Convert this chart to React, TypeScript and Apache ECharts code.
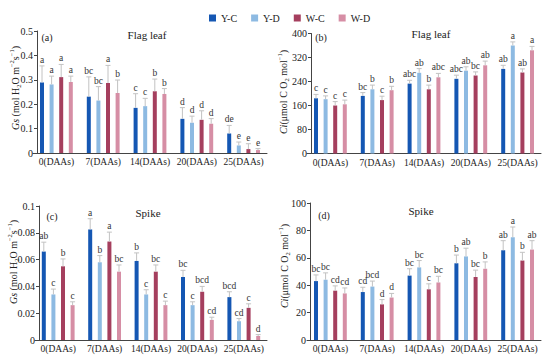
import { useEffect, useRef } from "react";
import * as echarts from "echarts";

const categories = ["0(DAAs)", "7(DAAs)", "14(DAAs)", "20(DAAs)", "25(DAAs)"];
const seriesNames = ["Y-C", "Y-D", "W-C", "W-D"];
const colors = ["#1557b3", "#8dbae2", "#a53f5e", "#d68ea5"];

// (a) Flag leaf Gs — rows follow seriesNames
const leafGsMean = [
  [0.289, 0.231, 0.185, 0.14, 0.08],
  [0.281, 0.215, 0.192, 0.124, 0.031],
  [0.311, 0.287, 0.253, 0.136, 0.016],
  [0.291, 0.246, 0.242, 0.12, 0.012],
];
const leafGsTop = [
  [0.357, 0.312, 0.243, 0.186, 0.113],
  [0.315, 0.272, 0.224, 0.151, 0.045],
  [0.363, 0.359, 0.303, 0.173, 0.038],
  [0.315, 0.299, 0.264, 0.141, 0.018],
];
const leafGsSig = [
  ["a", "bc", "c", "d", "de"],
  ["a", "bc", "c", "d", "e"],
  ["a", "a", "b", "d", "e"],
  ["a", "b", "b", "d", "e"],
];

// (b) Flag leaf Ci
const leafCiMean = [
  [184, 192, 233, 249, 282],
  [181, 214, 269, 276, 360],
  [160, 178, 214, 260, 270],
  [164, 211, 254, 294, 344],
];
const leafCiTop = [
  [197, 203, 244, 261, 294],
  [192, 228, 283, 289, 372],
  [173, 191, 228, 272, 282],
  [178, 224, 267, 308, 357],
];
const leafCiSig = [
  ["c", "bc", "abc", "abc", "ab"],
  ["c", "b", "ab", "ab", "a"],
  ["c", "c", "b", "bc", "ab"],
  ["c", "b", "abc", "ab", "a"],
];

// (c) Spike Gs
const spikeGsMean = [
  [0.066, 0.0825, 0.059, 0.047, 0.032],
  [0.034, 0.058, 0.034, 0.026, 0.014],
  [0.055, 0.0735, 0.051, 0.036, 0.024],
  [0.026, 0.051, 0.026, 0.015, 0.003],
];
const spikeGsTop = [
  [0.073, 0.0905, 0.065, 0.052, 0.036],
  [0.038, 0.063, 0.0375, 0.0285, 0.016],
  [0.0605, 0.0805, 0.056, 0.04, 0.027],
  [0.0285, 0.056, 0.029, 0.017, 0.004],
];
const spikeGsSig = [
  ["ab", "a", "b", "bc", "bcd"],
  ["c", "b", "c", "c", "cd"],
  ["b", "a", "bc", "bcd", "c"],
  ["c", "bc", "c", "cd", "d"],
];

// (d) Spike Ci
const spikeCiMean = [
  [43, 35, 47, 56, 65.5],
  [44, 39, 53, 61, 75],
  [36, 26, 37, 46, 58],
  [34, 31, 42, 52, 66],
];
const spikeCiTop = [
  [47.5, 38.5, 52, 62, 72.5],
  [49, 43, 58, 67, 82.5],
  [39.5, 29.5, 41, 51, 64],
  [38, 34, 46.5, 57, 72.5],
];
const spikeCiSig = [
  ["bc", "cd", "bc", "b", "ab"],
  ["bc", "bcd", "bc", "ab", "a"],
  ["cd", "d", "c", "bc", "b"],
  ["cd", "d", "bc", "b", "ab"],
];

const FONT = "'Liberation Serif', 'Times New Roman', serif";
const BAR_W = 4;
const BAR_GAP = 1.4;
const STEP = BAR_W * (1 + BAR_GAP);
const OFFSETS = [-1.5, -0.5, 0.5, 1.5].map((k) => k * STEP);

const panels = [
  { mean: leafGsMean, top: leafGsTop, sig: leafGsSig, grid: { left: 33, top: 31, width: 234, height: 122 }, off: -4, max: 0.5, interval: 0.1 },
  { mean: leafCiMean, top: leafCiTop, sig: leafCiSig, grid: { left: 307, top: 33.5, width: 234, height: 120 }, off: -4, max: 400, interval: 80 },
  { mean: spikeGsMean, top: spikeGsTop, sig: spikeGsSig, grid: { left: 35, top: 206, width: 232, height: 134 }, off: -4, max: 0.1, interval: 0.02 },
  { mean: spikeCiMean, top: spikeCiTop, sig: spikeCiSig, grid: { left: 307, top: 203, width: 234, height: 137 }, off: -3, max: 100, interval: 20 },
];

const richStyles = {
  n: { fontSize: 10, fontFamily: FONT, lineHeight: 14, fill: "#222" },
  i: { fontSize: 10, fontFamily: FONT, fontStyle: "italic", lineHeight: 14, fill: "#222" },
  sup: { fontSize: 6.5, fontFamily: FONT, verticalAlign: "top", lineHeight: 8, fill: "#222" },
  sub: { fontSize: 6.5, fontFamily: FONT, verticalAlign: "bottom", lineHeight: 8, fill: "#222" },
};
const gsTitle = "{i|Gs}{n| (mol H}{sub|2}{n|O m}{sup|−2}{n|s}{sup|−1}{n|)}";
const ciTitle = "{i|Ci}{n|(μmol C O}{sub|2}{n| mol}{sup|−1}{n|)}";

export default function App() {
  const ref = useRef<HTMLDivElement>(null);
  useEffect(() => {
    if (!ref.current) return;
    const chart = echarts.init(ref.current, undefined, { renderer: "svg" });

    const grids: any[] = [];
    const xAxes: any[] = [];
    const yAxes: any[] = [];
    const series: any[] = [];

    panels.forEach((p, gi) => {
      grids.push({ ...p.grid, containLabel: false });
      xAxes.push({
        type: "category",
        gridIndex: gi,
        data: categories,
        axisLine: { lineStyle: { color: "#444", width: 1 } },
        axisTick: { show: false },
        axisLabel: { interval: 0, fontFamily: FONT, fontSize: 9.5, color: "#222", margin: 4 },
      });
      yAxes.push({
        type: "value",
        gridIndex: gi,
        min: 0,
        max: p.max,
        interval: p.interval,
        offset: p.off,
        splitLine: { show: false },
        axisLine: { show: true, lineStyle: { color: "#444", width: 1 } },
        axisTick: { show: true, length: 3, lineStyle: { color: "#444" } },
        axisLabel: {
          fontFamily: FONT,
          fontSize: 10,
          color: "#222",
          margin: 4,
          formatter: (v: number) => String(parseFloat(v.toFixed(3))),
        },
      });
      seriesNames.forEach((name, si) => {
        series.push({
          type: "bar",
          name,
          xAxisIndex: gi,
          yAxisIndex: gi,
          data: p.mean[si],
          barWidth: BAR_W,
          barGap: `${BAR_GAP * 100}%`,
          itemStyle: { color: colors[si] },
          z: 2,
        });
      });
      seriesNames.forEach((_, si) => {
        const sig = p.sig[si];
        series.push({
          type: "custom",
          xAxisIndex: gi,
          yAxisIndex: gi,
          silent: true,
          z: 3,
          data: p.mean[si].map((m, i) => [i, m, p.top[si][i]]),
          encode: { x: 0, y: [1, 2] },
          renderItem: (params: any, api: any) => {
            const i = api.value(0);
            const lo = api.coord([i, api.value(1)]);
            const hi = api.coord([i, api.value(2)]);
            const x = lo[0] + OFFSETS[si];
            const ls = { stroke: "#c2c2c2", lineWidth: 1 };
            return {
              type: "group",
              children: [
                { type: "line", shape: { x1: x, y1: lo[1], x2: x, y2: hi[1] }, style: ls },
                { type: "line", shape: { x1: x - 2.5, y1: hi[1], x2: x + 2.5, y2: hi[1] }, style: ls },
                {
                  type: "text",
                  x,
                  y: hi[1] - 1,
                  style: {
                    text: sig[params.dataIndex],
                    align: "center",
                    verticalAlign: "bottom",
                    fontSize: 9.5,
                    fontFamily: FONT,
                    fill: "#333",
                  },
                },
              ],
            };
          },
        });
      });
    });

    const txt = (x: number, y: number, text: string, size = 10) => ({
      type: "text",
      x,
      y,
      style: {
        text,
        font: `normal normal 400 ${size}px ${FONT}`,
        fill: "#222",
        align: "center",
        verticalAlign: "middle",
      },
    });
    const ytitle = (x: number, y: number, text: string) => ({
      type: "text",
      x,
      y,
      rotation: Math.PI / 2,
      style: { text, rich: richStyles, align: "center", verticalAlign: "middle", fontSize: 10, fontFamily: FONT, fill: "#222" },
    });

    chart.setOption({
      animation: false,
      backgroundColor: "#fff",
      legend: {
        data: seriesNames,
        left: 204,
        top: 8,
        icon: "rect",
        itemWidth: 7,
        itemHeight: 7,
        itemGap: 14,
        textStyle: { fontFamily: FONT, fontSize: 10, color: "#222" },
      },
      grid: grids,
      xAxis: xAxes,
      yAxis: yAxes,
      series,
      graphic: [
        txt(47, 37, "(a)"),
        txt(321, 37, "(b)"),
        txt(52, 216, "(c)"),
        txt(324, 215, "(d)"),
        txt(147, 35, "Flag leaf", 11),
        txt(431, 34, "Flag leaf", 11),
        txt(148, 213, "Spike", 11),
        txt(421, 211, "Spike", 11),
        ytitle(15, 88, gsTitle),
        ytitle(283, 92, ciTitle),
        ytitle(13, 262, gsTitle),
        ytitle(284, 266, ciTitle),
      ],
    });
    return () => chart.dispose();
  }, []);
  return (
    <div
      ref={ref}
      style={{ position: "absolute", left: 0, top: 0, width: 550, height: 355, background: "#fff" }}
    />
  );
}
